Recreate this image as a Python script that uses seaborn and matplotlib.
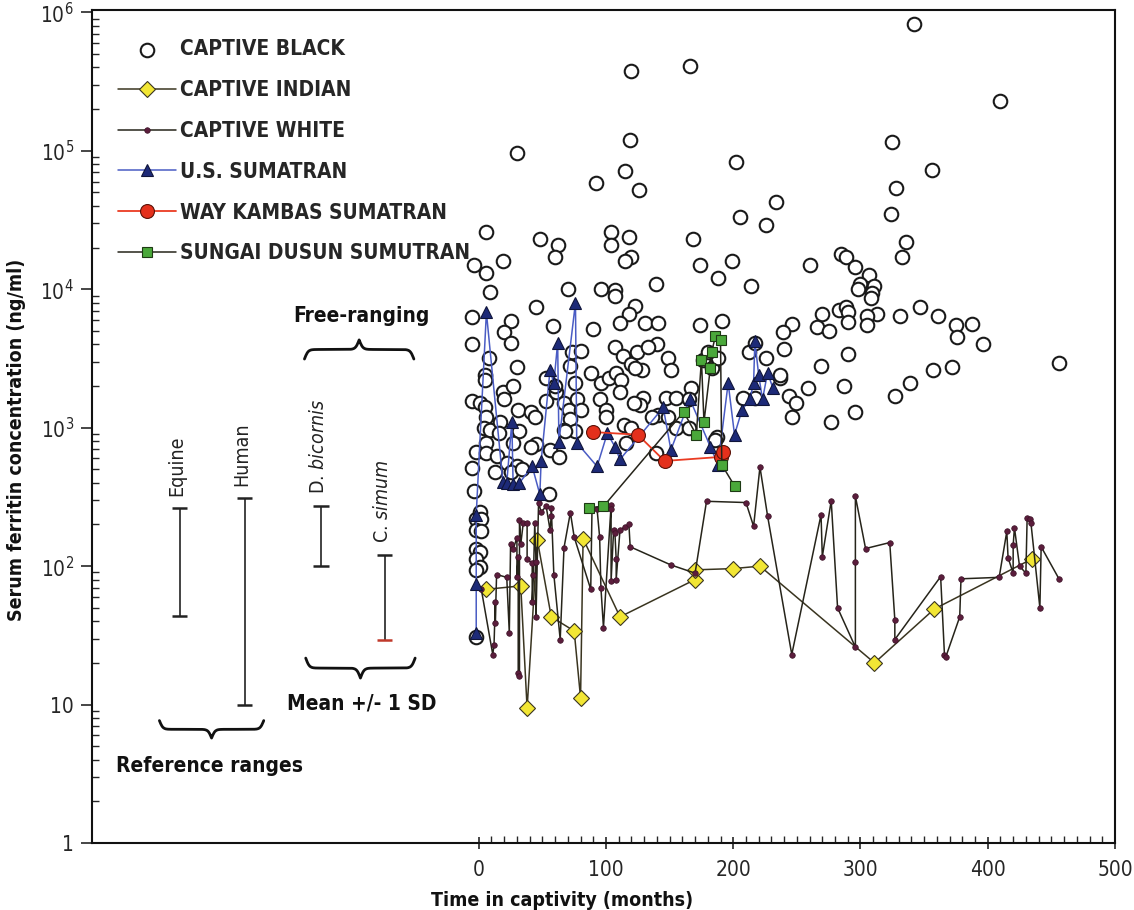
import numpy as np
import pandas as pd
import matplotlib
matplotlib.use("Agg")
import matplotlib.pyplot as plt
import matplotlib.transforms as mtransforms
from matplotlib.ticker import FixedLocator, NullFormatter
import seaborn as sns

# captive black rhinos (open circles, no line)
black_months = [120, 166, 30, 119, 202, 115, 92, 126, 234, 205, 226, 6, 48, 62, 60, 104, 104, 118, 120, 115,
                168, 174, 199, 188, 214, -4, 19, 6, 9, 139, 70, 96, 107, 107,
                342, 410, 325, 356, 328, 324, 336, 333, 260, 285, 289, 296, 307, 300, 298, 311, 309, 308,
                347, 361, 375, 388, 376, 396, 331, 313, 305, 305, 283, 289, 290, 290, 270, 266, 275, 246,
                239, 240, 290, 269, 237, 259, 287, 244, 249, 246, 277, 296, 327, 339, 357, 372, 456,
                -5, 45, 25, 20, 25, 58, 90, 123, 118, 111, -5, 107, 113, 120, 124, 8, 30, 73, 80, 5, 5,
                72, 88, 53, 76, 19, 27, 20, 96, 102, 108, 112, 111, -5, 1, 5, 53, 61, 60, 67, 71, 77, 80,
                95, 100, 100, 31, 41, 44, 72, 67, 76, 68, 6, 4, 9, 17, 16, 32, 27, -2, 6, 6, 14, 22, 30,
                45, 41, 56, 63, -5, -4, 13, 25, 34, 55, -2, 116,
                131, 141, 174, 191, 140, 133, 128, 123, 149, 151, 167, 147, 155, 141, 149, 129, 127, 122,
                136, 114, 120, 155, 165, 139, 165, 176, 183, 188, 208, 217, 212, 217, 226, 237, 187, 180,
                186, 1, 2, -2, 2, -2, 1, -2, 1, -2, -2]
black_ferritin = [3.8e5, 4.1e5, 9.7e4, 1.2e5, 8.3e4, 7.1e4, 5.9e4, 5.2e4, 4.3e4, 3.3e4, 2.9e4, 2.6e4, 2.3e4,
                  2.1e4, 1.7e4, 2.6e4, 2.1e4, 2.4e4, 1.7e4, 1.6e4, 2.3e4, 1.5e4, 1.6e4, 1.2e4, 1.05e4,
                  1.5e4, 1.6e4, 1.3e4, 9.5e3, 1.1e4, 1.0e4, 1.0e4, 9.9e3, 8.9e3,
                  8.3e5, 2.3e5, 1.15e5, 7.3e4, 5.4e4, 3.5e4, 2.2e4, 1.7e4, 1.5e4, 1.8e4, 1.7e4, 1.45e4,
                  1.26e4, 1.1e4, 1.0e4, 1.05e4, 9.4e3, 8.7e3, 7.4e3, 6.4e3, 5.5e3, 5.6e3, 4.5e3, 4.0e3,
                  6.4e3, 6.6e3, 6.4e3, 5.5e3, 7.1e3, 7.5e3, 6.8e3, 5.8e3, 6.6e3, 5.3e3, 5.0e3, 5.6e3,
                  4.9e3, 3.7e3, 3.4e3, 2.8e3, 2.3e3, 1.95e3, 2.0e3, 1.7e3, 1.5e3, 1.2e3, 1.1e3, 1.3e3,
                  1.7e3, 2.1e3, 2.6e3, 2.75e3, 2.95e3,
                  6.3e3, 7.4e3, 5.9e3, 4.9e3, 4.1e3, 5.4e3, 5.2e3, 7.6e3, 6.6e3, 5.7e3, 4.0e3, 3.8e3,
                  3.3e3, 2.9e3, 3.5e3, 3.2e3, 2.75e3, 3.5e3, 3.6e3, 2.4e3, 2.2e3, 2.8e3, 2.5e3, 2.3e3,
                  2.1e3, 1.8e3, 2.0e3, 1.6e3, 2.1e3, 2.3e3, 2.5e3, 2.2e3, 1.8e3, 1.55e3, 1.5e3, 1.4e3,
                  1.55e3, 1.8e3, 2.0e3, 1.5e3, 1.35e3, 1.6e3, 1.35e3, 1.6e3, 1.35e3, 1.2e3, 1.35e3,
                  1.3e3, 1.2e3, 1.15e3, 970, 940, 940, 1.2e3, 1.0e3, 970, 1.1e3, 920, 940, 780, 670, 780,
                  660, 620, 560, 530, 760, 720, 690, 610, 510, 350, 480, 480, 500, 330, 220, 780,
                  5.7e3, 5.7e3, 5.5e3, 5.9e3, 4.0e3, 3.8e3, 2.6e3, 2.7e3, 3.2e3, 2.6e3, 1.95e3, 1.65e3,
                  1.65e3, 1.24e3, 1.2e3, 1.65e3, 1.45e3, 1.5e3, 1.2e3, 1.05e3, 1.0e3, 1.0e3, 1.0e3, 660,
                  1.6e3, 3.1e3, 2.7e3, 3.2e3, 1.65e3, 1.65e3, 3.5e3, 4.1e3, 3.2e3, 2.4e3, 850, 3.5e3,
                  810, 245, 218, 183, 178, 132, 127, 112, 98, 94, 31]

# captive Indian rhinos (yellow diamonds)
indian_months = [6, 33, 38, 46, 57, 75, 80, 82, 111, 170, 170, 200, 221, 311, 358, 435]
indian_ferritin = [68, 72, 9.4, 155, 43, 34, 11.2, 158, 43, 80, 94, 96, 100, 20, 49, 113]

# captive white rhinos (small dots)
white_months = [2, 11, 12, 13, 13, 14, 22, 24, 25, 27, 30, 30, 31, 31, 32, 32, 33, 35, 38, 38, 42, 42, 43,
                44, 45, 45, 47, 49, 53, 56, 57, 57, 59, 64, 67, 72, 75, 88, 89, 93, 95, 96, 98, 104, 104,
                104, 106, 107, 108, 108, 111, 115, 118, 119, 151, 170, 179, 210, 216, 221, 227, 246, 269,
                270, 277, 282, 296, 296, 296, 304, 323, 327, 327, 363, 366, 367, 378, 379, 409, 415, 416,
                420, 420, 421, 425, 430, 431, 433, 434, 441, 442, 456]
white_ferritin = [68, 23, 27, 55, 39, 87, 83, 33, 144, 132, 161, 83, 117, 17, 16, 214, 144, 206, 206, 112,
                  105, 55, 87, 206, 107, 43, 288, 247, 270, 183, 229, 265, 87, 29.5, 136, 244, 162, 68,
                  257, 257, 162, 70, 36, 275, 257, 78, 183, 174, 112, 80, 183, 192, 200, 138, 102, 89,
                  294, 288, 194, 520, 230, 23, 235, 117, 297, 50, 26, 108, 320, 134, 148, 41, 29.5, 84,
                  23, 22, 43, 81, 83, 178, 115, 89, 141, 190, 100, 89, 224, 218, 204, 50, 138, 81]

# U.S. Sumatran rhinos (triangles)
us_months = [-2, -2, -2, 6, 19, 22, 26, 27, 32, 42, 48, 49, 56, 59, 62, 63, 76, 77, 93, 101, 107, 111,
             145, 151, 166, 182, 188, 196, 201, 207, 213, 216, 217, 220, 223, 227, 231]
us_ferritin = [33, 74, 235, 6800, 405, 400, 1100, 390, 400, 525, 330, 570, 2600, 2100, 4100, 790, 8000,
               780, 525, 910, 730, 590, 1400, 690, 1600, 730, 540, 2100, 890, 1350, 1600, 2100, 4200,
               2400, 1600, 2500, 1950]

# Way Kambas Sumatran rhinos (red circles)
wk_months = [90, 125, 146, 190, 192]
wk_ferritin = [930, 890, 575, 615, 670]

# Sungai Dusun Sumatran rhinos (green squares)
sd_months = [87, 98, 161, 171, 175, 177, 182, 183, 186, 190, 191, 201]
sd_ferritin = [265, 270, 1300, 890, 3100, 1100, 2700, 3500, 4600, 4300, 540, 380]

# reference ranges / free-ranging mean +/- 1 SD (drawn left of time zero)
ref_names = ["Equine", "Human", r"D. $\it{bicornis}$", r"C. $\it{simum}$"]
ref_pos = [-235, -184, -124, -74]
ref_low = [44, 10, 100, 29.5]
ref_high = [265, 310, 270, 121]

FAMILY = ["DejaVu Sans"]

sns.set_style("ticks")
plt.rcParams["font.family"] = FAMILY
plt.rcParams["font.stretch"] = "condensed"
plt.rcParams["mathtext.fontset"] = "custom"
plt.rcParams["mathtext.rm"] = "DejaVu Sans"
plt.rcParams["mathtext.it"] = "DejaVu Sans:italic"
plt.rcParams["mathtext.default"] = "regular"

fig = plt.figure(figsize=(11.34, 9.10), dpi=100)
ax = fig.add_axes([0.0811, 0.0736, 0.9021, 0.9154])
ax.set_yscale("log")

line_col = "#26241a"
sns.scatterplot(x=black_months, y=black_ferritin, marker="o", s=95, color="white",
                edgecolor="#1a1a1a", linewidth=1.5, label="CAPTIVE BLACK", ax=ax, zorder=2)
sns.lineplot(x=indian_months, y=indian_ferritin, sort=False, estimator=None, color="#3a3520",
             linewidth=1.1, marker="D", markersize=8, markerfacecolor="#f2e634",
             markeredgecolor="#3a3520", markeredgewidth=0.8, label="CAPTIVE INDIAN", ax=ax, zorder=3)
sns.lineplot(x=white_months, y=white_ferritin, sort=False, estimator=None, color=line_col,
             linewidth=1.1, marker="o", markersize=4, markerfacecolor="#5b1d3c",
             markeredgecolor="#3a1226", markeredgewidth=0.5, label="CAPTIVE WHITE", ax=ax, zorder=3)
sns.lineplot(x=us_months, y=us_ferritin, sort=False, estimator=None, color="#4a5cc4",
             linewidth=1.1, marker="^", markersize=9, markerfacecolor="#1d2a78",
             markeredgecolor="#10153a", markeredgewidth=0.8, label="U.S. SUMATRAN", ax=ax, zorder=4)
sns.lineplot(x=wk_months, y=wk_ferritin, sort=False, estimator=None, color="#ea3b22",
             linewidth=1.3, marker="o", markersize=10, markerfacecolor="#e4301c",
             markeredgecolor="#5a1208", markeredgewidth=0.8, label="WAY KAMBAS SUMATRAN", ax=ax, zorder=4)
sns.lineplot(x=sd_months, y=sd_ferritin, sort=False, estimator=None, color=line_col,
             linewidth=1.1, marker="s", markersize=7, markerfacecolor="#4aa83a",
             markeredgecolor="#1e3a14", markeredgewidth=0.8, label="SUNGAI DUSUN SUMUTRAN", ax=ax, zorder=4)

# reference range bars
cap = 6
ax.vlines(ref_pos, ref_low, ref_high, color="#222", linewidth=1.2)
ax.hlines(ref_high, np.array(ref_pos) - cap, np.array(ref_pos) + cap, color="#222", linewidth=1.8)
low_cols = ["#222", "#222", "#222", "#c0392b"]
for xp, lo, c in zip(ref_pos, ref_low, low_cols):
    ax.hlines(lo, xp - cap, xp + cap, color=c, linewidth=1.8)
for xp, hi, name in zip(ref_pos, ref_high, ref_names):
    ax.text(xp - 2, hi * 1.22, name, rotation=90, ha="center", va="bottom", fontsize=14,
            color="#222")

# curly braces grouping the reference bars
trans = mtransforms.blended_transform_factory(ax.transData, ax.transAxes)


def brace(x0, x1, y_end, y_tip):
    half = np.linspace(0, 0.5, 80)
    beta = 60.0
    prof = 1 / (1 + np.exp(-beta * (half - half[0]))) + 1 / (1 + np.exp(-beta * (half - half[-1])))
    prof = np.concatenate([prof, prof[-2::-1]]) - 0.5
    xs = np.linspace(x0, x1, len(prof))
    ys = y_end + (y_tip - y_end) * prof
    ax.plot(xs, ys, transform=trans, color="#111", linewidth=2.0, clip_on=False,
            solid_capstyle="round")


brace(-137, -51, 0.581, 0.604)
brace(-136, -50, 0.222, 0.198)
brace(-251, -169, 0.147, 0.126)

bold = dict(fontsize=15, fontweight="bold", color="#111", transform=trans, ha="center", va="center")
ax.text(-92, 0.633, "Free-ranging", **bold)
ax.text(-92, 0.167, "Mean +/- 1 SD", **bold)
ax.text(-212, 0.093, "Reference ranges", **bold)

# axes styling
ax.set_xlim(-304, 500)
ax.set_ylim(1, 1.04e6)
ax.set_xticks([0, 100, 200, 300, 400, 500])
ax.xaxis.set_minor_locator(FixedLocator(list(range(0, 501, 10))))
ax.set_yticks([1, 10, 1e2, 1e3, 1e4, 1e5, 1e6])
ax.set_yticklabels(["1", "10", "$10^{2}$", "$10^{3}$", "$10^{4}$", "$10^{5}$", "$10^{6}$"])
ax.tick_params(axis="x", which="major", direction="inout", length=9, width=1.2, labelsize=15, pad=8)
ax.tick_params(axis="x", which="minor", direction="in", length=5, width=1)
ax.tick_params(axis="y", which="major", direction="out", length=8, width=1.2, labelsize=15, pad=5)
ax.tick_params(axis="y", which="minor", direction="in", length=5, width=1)
ax.yaxis.set_minor_formatter(NullFormatter())
for sp in ax.spines.values():
    sp.set_visible(True)
    sp.set_linewidth(1.5)
    sp.set_color("#111")

ax.set_xlabel("Time in captivity (months)", fontsize=14, fontweight="bold", color="#111")
ax.set_ylabel("Serum ferritin concentration (ng/ml)", fontsize=14, fontweight="bold", color="#111")
ax.xaxis.set_label_coords(0.46, -0.058)
ax.yaxis.set_label_coords(-0.064, 0.484)

handles, labels = ax.get_legend_handles_labels()
ax.legend(handles, labels, loc="upper left", bbox_to_anchor=(0.017, 0.975), frameon=False,
          handlelength=2.8, handletextpad=0.2, labelspacing=1.0, borderaxespad=0,
          prop={"family": FAMILY, "weight": "bold", "size": 15, "stretch": "condensed"})

fig.savefig("out.png", dpi=100)
